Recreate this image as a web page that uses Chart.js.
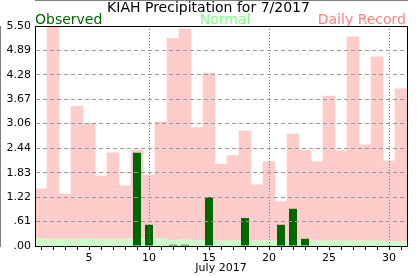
<!DOCTYPE html>
<html>
<head>
<meta charset="utf-8">
<script src="https://cdn.jsdelivr.net/npm/chart.js@4"></script>
<style>
  html, body { margin: 0; padding: 0; background: #fff; }
  canvas { display: block; }
</style>
</head>
<body>
<canvas id="chart" width="417" height="276"></canvas>
<script>
const days = ['1', '2', '3', '4', '5', '6', '7', '8', '9', '10', '11', '12', '13', '14', '15', '16',
    '17', '18', '19', '20', '21', '22', '23', '24', '25', '26', '27', '28', '29', '30', '31'];
const observed = [0, 0, 0, 0, 0, 0, 0, 0, 2.33, 0.53, 0, 0.03, 0.03, 0, 1.22, 0,
    0, 0.70, 0, 0, 0.53, 0.93, 0.18, 0, 0, 0, 0, 0, 0, 0, 0];
const normal = [0.18, 0.18, 0.18, 0.18, 0.18, 0.18, 0.18, 0.18, 0.18, 0.18, 0.18, 0.14, 0.16, 0.14, 0.14, 0.13,
    0.13, 0.13, 0.13, 0.13, 0.13, 0.13, 0.13, 0.13, 0.13, 0.13, 0.13, 0.13, 0.13, 0.11, 0.11];
const record = [1.43, 5.50, 1.30, 3.50, 3.06, 1.75, 2.33, 1.51, 2.40, 1.78, 3.10, 5.19, 5.43, 2.96, 4.32, 2.05,
    2.26, 2.88, 1.53, 2.11, 1.11, 2.80, 2.39, 2.11, 3.75, 2.38, 5.23, 2.53, 4.73, 2.13, 3.93];
const yTicks = [0, 0.61, 1.22, 1.83, 2.44, 3.06, 3.67, 4.28, 4.89, 5.50];

const font = "'DejaVu Sans', sans-serif";

// title + coloured legend words above the plot
const headerPlugin = {
    id: 'header',
    afterDraw: function (chart) {
        const ctx = chart.ctx;
        const area = chart.chartArea;
        ctx.save();
        ctx.font = '14px ' + font;
        ctx.textBaseline = 'alphabetic';
        ctx.fillStyle = '#000';
        ctx.textAlign = 'center';
        ctx.fillText('KIAH Precipitation for 7/2017', chart.width / 2, 12);
        ctx.fillStyle = '#006600';
        ctx.textAlign = 'left';
        ctx.fillText('Observed', area.left, 24);
        ctx.fillStyle = '#80ff80';
        ctx.textAlign = 'center';
        ctx.fillText('Normal', 225, 24);
        ctx.fillStyle = '#ff8080';
        ctx.textAlign = 'right';
        ctx.fillText('Daily Record', area.right - 1, 24);
        // frame round the plot
        ctx.strokeStyle = '#000';
        ctx.lineWidth = 1;
        ctx.strokeRect(area.left + 0.5, area.top + 0.5, area.right - area.left, area.bottom - area.top);
        ctx.restore();
    }
};

new Chart(document.getElementById('chart'), {
    type: 'bar',
    data: {
        labels: days,
        datasets: [{
            label: 'Observed',
            data: observed,
            backgroundColor: '#006600',
            grouped: false,
            barPercentage: 0.67,
            categoryPercentage: 1
        }, {
            label: 'Normal',
            data: normal,
            backgroundColor: '#ccffcc',
            grouped: false,
            barPercentage: 1,
            categoryPercentage: 1
        }, {
            label: 'Daily Record',
            data: record,
            backgroundColor: '#ffcccc',
            grouped: false,
            barPercentage: 1,
            categoryPercentage: 1
        }]
    },
    options: {
        responsive: false,
        animation: false,
        devicePixelRatio: 1,
        layout: {
            padding: {left: 0, right: 10, top: 26, bottom: 0}
        },
        plugins: {
            legend: {display: false},
            title: {display: false},
            tooltip: {enabled: false}
        },
        scales: {
            x: {
                afterFit: function (scale) {
                    scale.height = 30;
                },
                grid: {
                    offset: false,
                    z: 1,
                    color: function (c) {
                        return (c.index + 1) % 10 === 0 ? '#777' : 'rgba(0,0,0,0)';
                    },
                    tickColor: '#000',
                    tickLength: 4,
                    tickBorderDash: []
                },
                border: {color: '#000', dash: [1, 2]},
                ticks: {
                    autoSkip: false,
                    maxRotation: 0,
                    padding: 2,
                    color: '#000',
                    font: {family: font, size: 11},
                    callback: function (v, i) {
                        return (i + 1) % 5 === 0 ? days[i] : '';
                    }
                },
                title: {
                    display: true,
                    text: 'July 2017',
                    color: '#000',
                    font: {family: font, size: 11},
                    padding: {top: 0, bottom: 1}
                }
            },
            y: {
                min: 0,
                max: 5.5,
                afterFit: function (scale) {
                    scale.width = 35;
                },
                afterBuildTicks: function (scale) {
                    scale.ticks = yTicks.map(v => ({value: v}));
                },
                grid: {
                    z: 1,
                    color: '#999',
                    drawTicks: false
                },
                border: {color: '#000', dash: [4, 3]},
                ticks: {
                    padding: 4,
                    color: '#000',
                    font: {family: font, size: 11},
                    callback: function (v) {
                        return v.toFixed(2).replace(/^0\./, '.');
                    }
                }
            }
        }
    },
    plugins: [headerPlugin]
});
</script>
</body>
</html>
